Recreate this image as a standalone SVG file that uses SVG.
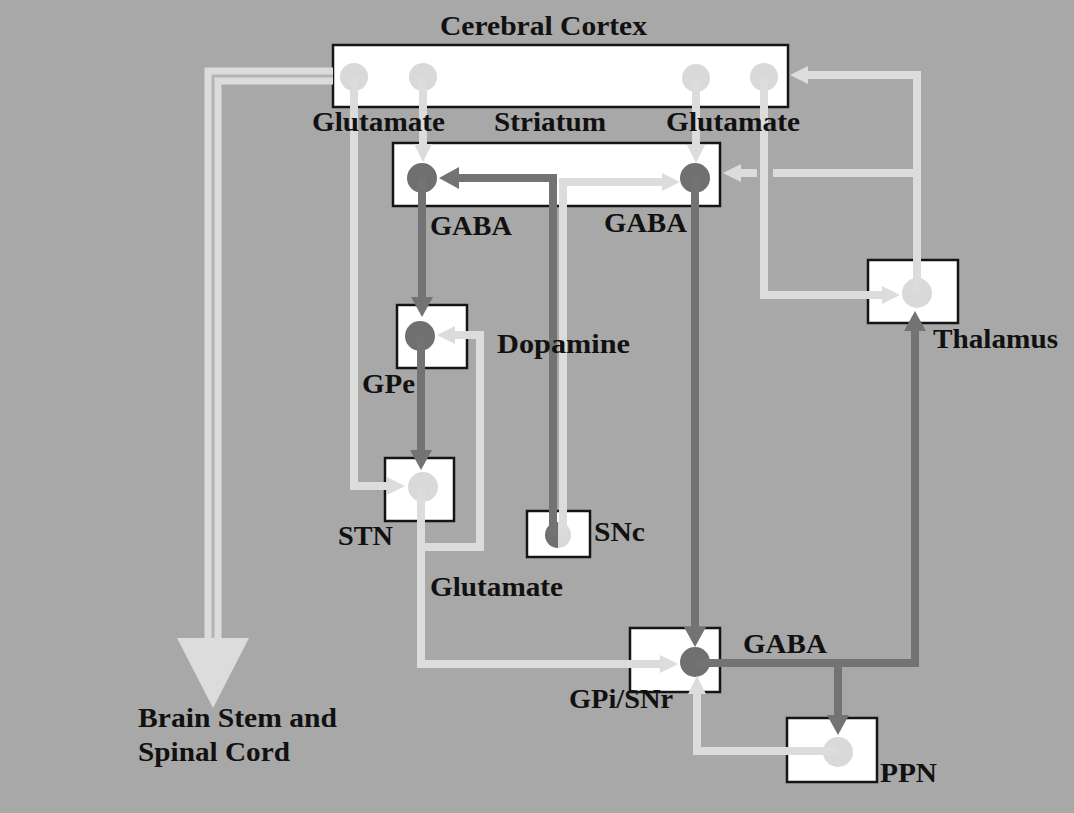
<svg xmlns="http://www.w3.org/2000/svg" width="1074" height="813" viewBox="0 0 1074 813">
<defs>
<style>
.box{fill:#ffffff;stroke:#151515;stroke-width:2.5}
.lc{fill:#d9d9d9}
.dc{fill:#707070}
.l{fill:none;stroke:#dcdcdc;stroke-width:8}
.d{fill:none;stroke:#737373;stroke-width:8}
text{font-family:"Liberation Serif","Times New Roman",serif;font-weight:bold;font-size:27px;fill:#111111}
</style>
<marker id="la" markerUnits="userSpaceOnUse" markerWidth="20" markerHeight="20" refX="0" refY="9" orient="auto" overflow="visible">
<path d="M0,0 L18,9 L0,18 z" fill="#dcdcdc"/>
</marker>
<marker id="da" markerUnits="userSpaceOnUse" markerWidth="22" markerHeight="22" refX="0" refY="11" orient="auto" overflow="visible">
<path d="M0,0 L20,11 L0,22 z" fill="#737373"/>
</marker>
</defs>
<rect x="0" y="0" width="1074" height="813" fill="#a8a8a8"/>

<g id="cortex">
<rect class="box" x="333" y="45" width="455" height="62"/>
<circle class="lc" cx="354" cy="77" r="14"/>
<circle class="lc" cx="423" cy="77" r="14"/>
<circle class="lc" cx="696" cy="78" r="14"/>
<circle class="lc" cx="764" cy="77" r="14"/>
<text x="440" y="35" textLength="207" lengthAdjust="spacingAndGlyphs">Cerebral Cortex</text>
</g>
<g id="striatum">
<rect class="box" x="393" y="143" width="327" height="63"/>
<circle class="dc" cx="422" cy="178" r="15"/>
<circle class="dc" cx="695" cy="178" r="15"/>
<text x="494" y="131" textLength="112" lengthAdjust="spacingAndGlyphs">Striatum</text>
</g>
<g id="gpe">
<rect class="box" x="397" y="305" width="70" height="63"/>
<circle class="dc" cx="420" cy="336" r="15"/>
<text x="362" y="393" textLength="53" lengthAdjust="spacingAndGlyphs">GPe</text>
</g>
<g id="stn">
<rect class="box" x="385" y="458" width="69" height="63"/>
<circle class="lc" cx="423" cy="487" r="15"/>
<text x="338" y="545" textLength="55" lengthAdjust="spacingAndGlyphs">STN</text>
</g>
<g id="snc">
<rect class="box" x="527" y="511" width="63" height="46"/>
<path class="dc" d="M558,522 A13,13 0 0 0 558,548 z"/>
<path class="lc" d="M558,522 A13,13 0 0 1 558,548 z"/>
<text x="594" y="541" textLength="51" lengthAdjust="spacingAndGlyphs">SNc</text>
</g>
<g id="thalamus">
<rect class="box" x="868" y="260" width="90" height="63"/>
<circle class="lc" cx="917" cy="293" r="15"/>
<text x="933" y="348" textLength="125" lengthAdjust="spacingAndGlyphs">Thalamus</text>
</g>
<g id="gpi-snr">
<rect class="box" x="630" y="628" width="90" height="64"/>
<circle class="dc" cx="695" cy="662" r="15"/>
<text x="569" y="708" textLength="104" lengthAdjust="spacingAndGlyphs">GPi/SNr</text>
</g>
<g id="ppn">
<rect class="box" x="787" y="718" width="90" height="64"/>
<circle class="lc" cx="838" cy="752" r="15"/>
<text x="880" y="782" textLength="57" lengthAdjust="spacingAndGlyphs">PPN</text>
</g>
<g id="brainstem">
<text x="138" y="727" textLength="199" lengthAdjust="spacingAndGlyphs">Brain Stem and</text>
<text x="138" y="761" textLength="152" lengthAdjust="spacingAndGlyphs">Spinal Cord</text>
</g>

<g id="connectors">
<!-- cortex to brain stem (hollow shaft + big head) -->
<path d="M333,76 H213 V640" fill="none" stroke="#dcdcdc" stroke-width="17"/>
<path d="M333,76 H213 V638" fill="none" stroke="#b4b4b4" stroke-width="3"/>
<path d="M177,638 L249,638 L213,708 z" fill="#dcdcdc"/>
<!-- cortex glutamate -->
<path class="l" d="M354,77 V486 H387" marker-end="url(#la)"/>
<path class="l" d="M423,77 V144" marker-end="url(#la)"/>
<path class="l" d="M696,78 V145" marker-end="url(#la)"/>
<path class="l" d="M764,77 V295 H882" marker-end="url(#la)"/>
<!-- thalamus to cortex and striatum -->
<path class="l" d="M917,293 V75 H808" marker-end="url(#la)"/>
<path class="l" d="M917,173 H773"/>
<path class="l" d="M757,173 H741" marker-end="url(#la)"/>
<!-- SNc dopamine -->
<path class="l" d="M563,535 V182 H662" marker-end="url(#la)"/>
<path class="d" d="M553,535 V178 H459" marker-end="url(#da)"/>
<!-- striatum GABA -->
<path class="d" d="M422,178 V297" marker-end="url(#da)"/>
<path class="d" d="M695,178 V627" marker-end="url(#da)"/>
<!-- GPe to STN -->
<path class="d" d="M421,337 V450" marker-end="url(#da)"/>
<!-- STN glutamate -->
<path class="l" d="M421,487 V547 H480 V335 H455" marker-end="url(#la)"/>
<path class="l" d="M421,547 V664 H660" marker-end="url(#la)"/>
<!-- GPi outputs -->
<path class="d" d="M695,663 H915 V331" marker-end="url(#da)"/>
<path class="d" d="M838,663 V715" marker-end="url(#da)"/>
<!-- PPN to GPi -->
<path class="l" d="M838,751 H697 V694" marker-end="url(#la)"/>
</g>

<g id="labels">
<text x="312" y="131" textLength="133" lengthAdjust="spacingAndGlyphs">Glutamate</text>
<text x="666" y="131" textLength="134" lengthAdjust="spacingAndGlyphs">Glutamate</text>
<text x="430" y="235" textLength="82" lengthAdjust="spacingAndGlyphs">GABA</text>
<text x="604" y="232" textLength="83" lengthAdjust="spacingAndGlyphs">GABA</text>
<text x="497" y="353" textLength="133" lengthAdjust="spacingAndGlyphs">Dopamine</text>
<text x="430" y="596" textLength="133" lengthAdjust="spacingAndGlyphs">Glutamate</text>
<text x="743" y="653" textLength="84" lengthAdjust="spacingAndGlyphs">GABA</text>
</g>
</svg>
